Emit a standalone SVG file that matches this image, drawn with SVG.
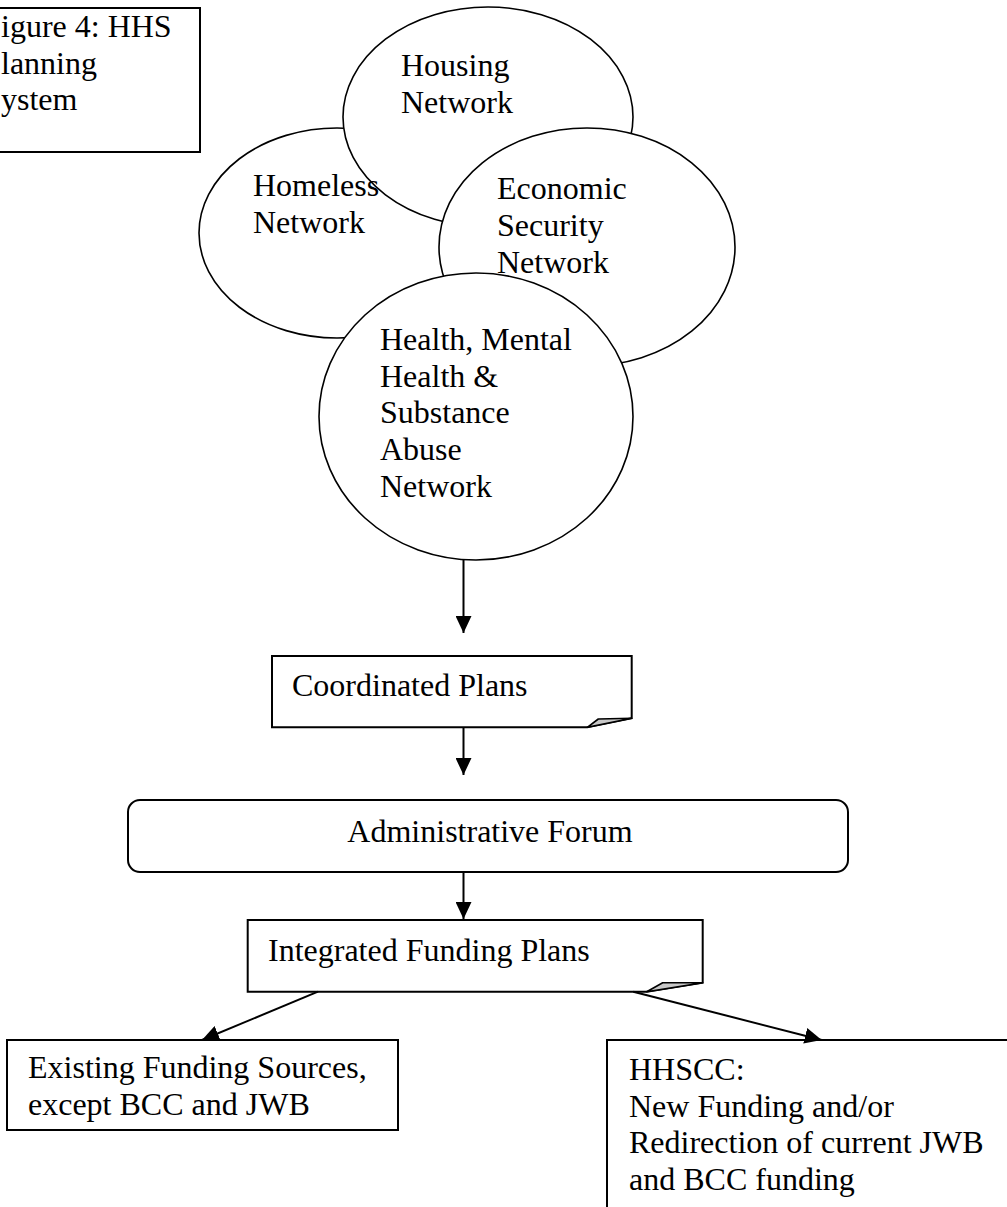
<svg xmlns="http://www.w3.org/2000/svg" width="1007" height="1207" viewBox="0 0 1007 1207">
  <style>
    text { font-family: "Liberation Serif", "Times New Roman", serif; font-size: 32px; fill: #000; }
    .box { fill: #fff; stroke: #000; stroke-width: 2; }
    .net { fill: #fff; stroke: #000; stroke-width: 1.6; }
    .flap { fill: #c8c8c8; stroke: #000; stroke-width: 1.6; stroke-linejoin: round; }
    .link { fill: none; stroke: #000; stroke-width: 2; marker-end: url(#head); }
  </style>
  <defs>
    <marker id="head" markerUnits="userSpaceOnUse" viewBox="0 0 17 16" refX="17" refY="8" markerWidth="17" markerHeight="16" orient="auto">
      <path d="M0,0 L17,8 L0,16 Z" fill="#000"/>
    </marker>
  </defs>

  <!-- caption box, clipped by the left page edge -->
  <g id="caption">
    <rect class="box" x="-20" y="8" width="220" height="144"/>
    <text x="1" y="37">igure 4: HHS</text>
    <text x="1" y="74">lanning</text>
    <text x="1" y="110">ystem</text>
  </g>

  <!-- overlapping network ellipses, back to front -->
  <g id="homeless-network">
    <ellipse class="net" cx="337" cy="233" rx="138" ry="105"/>
  </g>
  <g id="housing-network">
    <ellipse class="net" cx="488" cy="117" rx="145" ry="110"/>
  </g>
  <g id="economic-security-network">
    <ellipse class="net" cx="587" cy="247" rx="148" ry="119"/>
  </g>
  <g id="health-network">
    <ellipse class="net" cx="476" cy="416.5" rx="157" ry="143.5"/>
  </g>

  <!-- ellipse labels sit above all outlines -->
  <g id="network-labels">
    <text x="401" y="76">Housing</text>
    <text x="401" y="113">Network</text>
    <text x="253" y="196">Homeless</text>
    <text x="253" y="233">Network</text>
    <text x="497" y="199">Economic</text>
    <text x="497" y="236">Security</text>
    <text x="497" y="273">Network</text>
    <text x="380" y="350">Health, Mental</text>
    <text x="380" y="387">Health &amp;</text>
    <text x="380" y="423">Substance</text>
    <text x="380" y="460">Abuse</text>
    <text x="380" y="497">Network</text>
  </g>

  <g id="coordinated-plans">
    <path class="box" d="M272,656 H631.7 V718.3 L587.3,727.3 H272 Z"/>
    <path class="flap" d="M587.3,727.3 L598.3,719 L631.7,718.3 Z"/>
    <text x="292" y="696">Coordinated Plans</text>
  </g>

  <g id="administrative-forum">
    <rect class="box" x="128" y="800" width="720" height="72" rx="12"/>
    <text x="490" y="842" text-anchor="middle">Administrative Forum</text>
  </g>

  <g id="integrated-funding-plans">
    <path class="box" d="M247.7,920 H702.7 V982.7 L646.7,991.7 H247.7 Z"/>
    <path class="flap" d="M646.7,991.7 L662.7,982.7 L702.7,982.7 Z"/>
    <text x="268" y="961">Integrated Funding Plans</text>
  </g>

  <g id="existing-funding">
    <rect class="box" x="7" y="1040" width="391" height="90"/>
    <text x="28" y="1078">Existing Funding Sources,</text>
    <text x="28" y="1115">except BCC and JWB</text>
  </g>

  <g id="hhscc">
    <rect class="box" x="607" y="1040" width="420" height="190"/>
    <text x="629" y="1080">HHSCC:</text>
    <text x="629" y="1117">New Funding and/or</text>
    <text x="629" y="1153">Redirection of current JWB</text>
    <text x="629" y="1190">and BCC funding</text>
  </g>

  <g id="connectors">
    <line class="link" x1="463.5" y1="559" x2="463.5" y2="633"/>
    <line class="link" x1="463.5" y1="728" x2="463.5" y2="775"/>
    <line class="link" x1="463.5" y1="872" x2="463.5" y2="919"/>
    <line class="link" x1="318" y1="991.7" x2="202" y2="1040"/>
    <line class="link" x1="633.3" y1="991.7" x2="821.7" y2="1040"/>
  </g>
</svg>
